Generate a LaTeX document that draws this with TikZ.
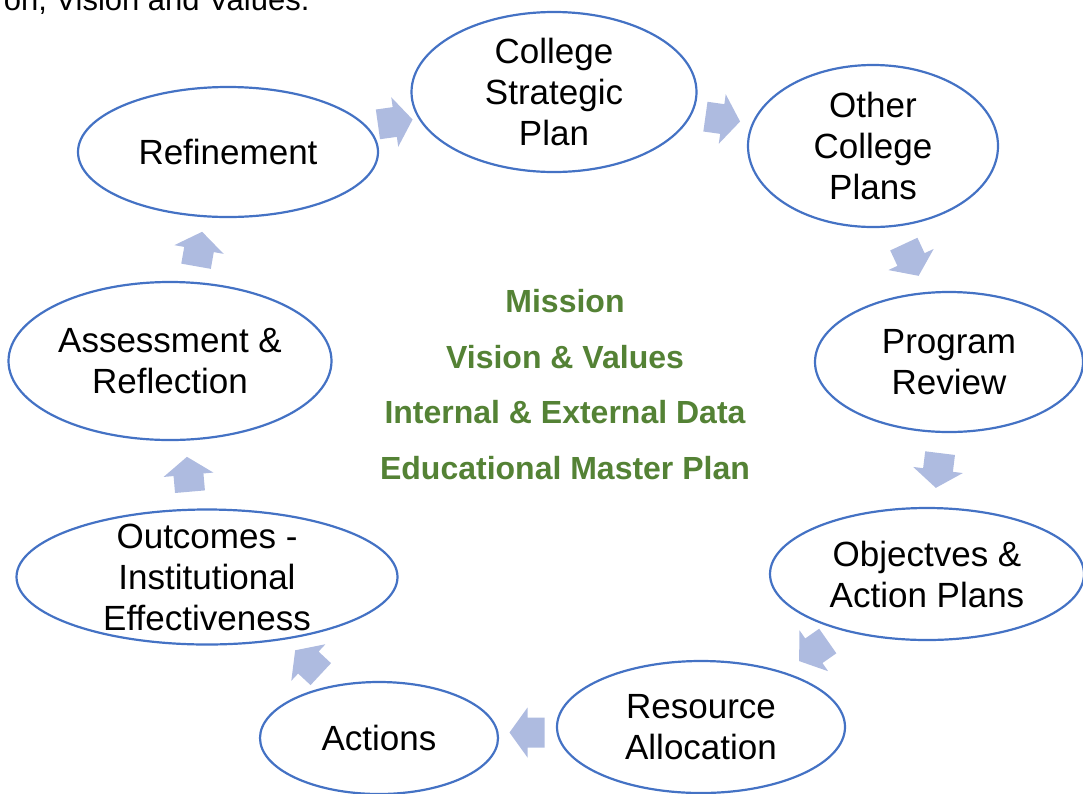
\documentclass[tikz,border=0pt]{standalone}
\usepackage{fontspec}
\setmainfont{Liberation Sans}
\usepackage{xcolor}
\usepackage{tikz}
\usetikzlibrary{shapes.geometric}
\usetikzlibrary{calc}
\definecolor{cycleblue}{HTML}{4472C4}
\definecolor{arrowblue}{HTML}{AEBBE0}
\definecolor{coregreen}{HTML}{548235}
\newcommand{\flowarrow}[3]{%
  \begin{scope}[shift={($(#1)!0.5!(#2)$)},rotate=#3]
    \fill[arrowblue] (-17,-15) -- (0,-15) -- (0,-25) -- (18,0) -- (0,25) -- (0,15) -- (-17,15) -- cycle;
  \end{scope}}

\begin{document}
\begin{tikzpicture}[x=1pt,y=-1pt,
    stage/.style={ellipse,draw=cycleblue,line width=2.2pt,inner sep=0pt},
    stagetext/.style={align=center,font=\fontsize{35}{41}\selectfont},
    core/.style={text=coregreen,font=\bfseries\fontsize{32}{36}\selectfont}]
    \useasboundingbox (0,0) rectangle (1083,793);
    \node[anchor=base east,font=\fontsize{31}{36}\selectfont] (heading) at (313,10) {on, Vision and Values.};
    \node[stage,minimum width=285pt,minimum height=160pt,label={[stagetext]center:College\\Strategic\\Plan}] (csp) at (554,92) {};
    \node[stage,minimum width=250pt,minimum height=162pt,label={[stagetext]center:Other\\College\\Plans}] (other) at (873,146) {};
    \node[stage,minimum width=268pt,minimum height=140pt,label={[stagetext]center:Program\\Review}] (review) at (949,362) {};
    \node[stage,minimum width=314pt,minimum height=132pt,label={[stagetext]center:Objectves \&\\Action Plans}] (objectives) at (927,574) {};
    \node[stage,minimum width=288pt,minimum height=132pt,label={[stagetext]center:Resource\\Allocation}] (resource) at (701,727) {};
    \node[stage,minimum width=238pt,minimum height=112pt,label={[stagetext]center:Actions}] (actions) at (379,738) {};
    \node[stage,minimum width=381pt,minimum height=135pt,label={[stagetext]center:Outcomes -\\Institutional\\Effectiveness}] (outcomes) at (207,577) {};
    \node[stage,minimum width=323pt,minimum height=158pt,label={[stagetext]center:Assessment \&\\Reflection}] (assessment) at (170,361) {};
    \node[stage,minimum width=300pt,minimum height=130pt,label={[stagetext]center:Refinement}] (refinement) at (228,152) {};
    \node[core] (mission) at (565,301) {Mission};
    \node[core] (vision) at (565,357) {Vision \& Values};
    \node[core] (data) at (565,412) {Internal \& External Data};
    \node[core] (emp) at (565,468) {Educational Master Plan};
    \flowarrow{refinement.east}{csp.west}{8}
    \flowarrow{csp.east}{other.west}{-8}
    \flowarrow{other.south}{review.north}{-65}
    \flowarrow{review.south}{objectives.north}{-97}
    \flowarrow{objectives.-125}{resource.55}{-145}
    \flowarrow{resource.west}{actions.east}{180}
    \flowarrow{actions.130}{outcomes.-40}{137}
    \flowarrow{outcomes.north}{assessment.south}{95}
    \flowarrow{assessment.north}{refinement.south}{80}
  \end{tikzpicture}
\end{document}
